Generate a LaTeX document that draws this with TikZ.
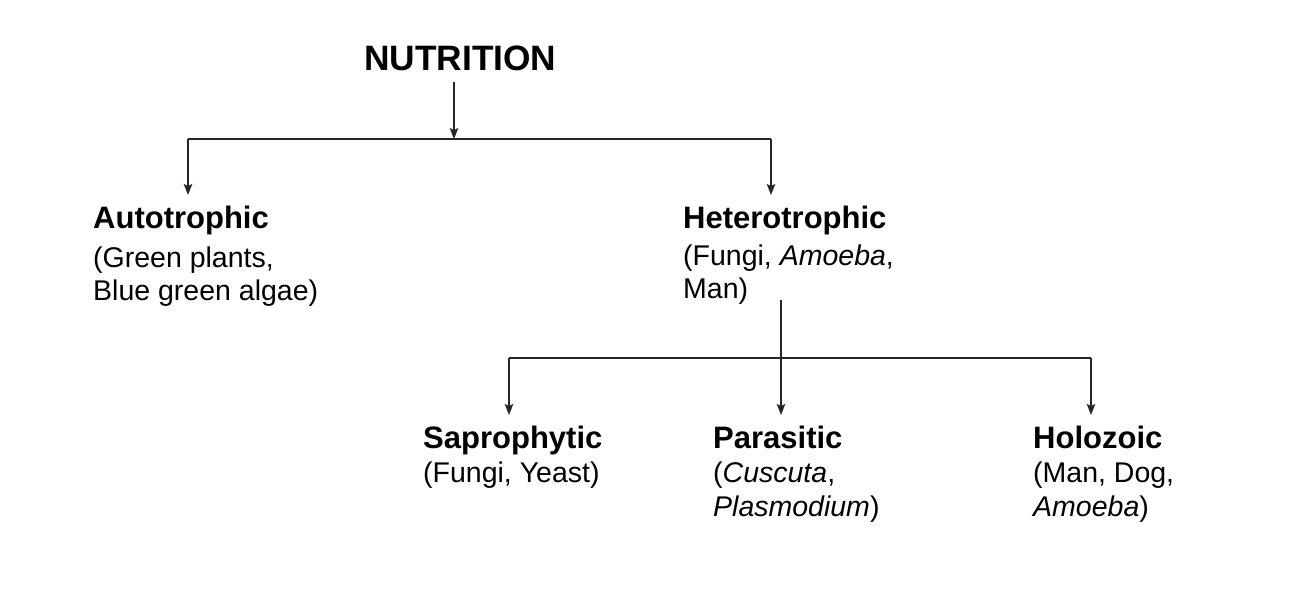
\documentclass[tikz,border=0pt]{standalone}
\usepackage{fontspec}
\setmainfont{Liberation Sans}
\usetikzlibrary{arrows.meta}
\begin{document}
\begin{tikzpicture}[x=1pt,y=-1pt,
  title/.style={inner sep=0pt,anchor=base west,font=\fontsize{35.3}{40}\selectfont\bfseries},
  head/.style={inner sep=0pt,anchor=base west,font=\fontsize{31}{36}\selectfont\bfseries},
  body/.style={inner sep=0pt,anchor=base west,font=\fontsize{28.5}{33}\selectfont},
  conn/.style={line width=1.5pt,black!85},
  arr/.style={conn,-{Stealth[length=11pt,width=8.5pt,inset=2pt]}}]
\useasboundingbox (0,0) rectangle (1298,596);
% texts
\node[title] (nut) at (364,71) {NUTRITION};
\node[head] (auto) at (93,229) {Autotrophic};
\node[body] (auto1) at (93,267) {(Green plants,};
\node[body] (auto2) at (93,300) {Blue green algae)};
\node[head] (het) at (683,229) {Heterotrophic};
\node[body] (het1) at (683,265) {(Fungi, \textit{Amoeba},};
\node[body] (het2) at (683,298) {Man)};
\node[head] (sap) at (423,448) {Saprophytic};
\node[body] (sap1) at (423,482) {(Fungi, Yeast)};
\node[head] (par) at (713,448) {Parasitic};
\node[body] (par1) at (713,482) {(\textit{Cuscuta},};
\node[body] (par2) at (713,516) {\textit{Plasmodium})};
\node[head] (hol) at (1033,448) {Holozoic};
\node[body] (hol1) at (1033,482) {(Man, Dog,};
\node[body] (hol2) at (1033,516) {\textit{Amoeba})};
% connector points
\coordinate (n0) at (454,82);
\coordinate (j0) at (454,139);
\coordinate (jl) at (188,139);
\coordinate (jr) at (771,139);
\coordinate (ta) at (188,195);
\coordinate (th) at (771,195);
\coordinate (h0) at (781,300);
\coordinate (j1) at (781,358);
\coordinate (js) at (509,358);
\coordinate (jh) at (1091,358);
\coordinate (ts) at (509,415);
\coordinate (tp) at (781,415);
\coordinate (to) at (1091,415);
% connectors
\draw[arr] (n0) -- (j0);
\draw[conn] (jl) -- (jr);
\draw[arr] (jl) -- (ta);
\draw[arr] (jr) -- (th);
\draw[arr] (h0) -- (tp);
\draw[conn] (js) -- (jh);
\draw[arr] (js) -- (ts);
\draw[arr] (jh) -- (to);
\end{tikzpicture}
\end{document}
